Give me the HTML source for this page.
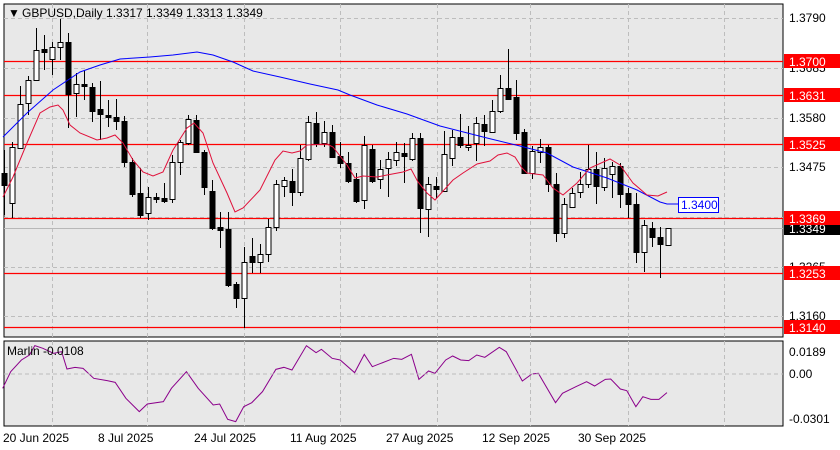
<!DOCTYPE html>
<html><head><meta charset="utf-8"><style>
body{margin:0;background:#fff;}
svg{display:block;font-family:"Liberation Sans",sans-serif;}
</style></head><body>
<svg id="s" width="840" height="450" xmlns="http://www.w3.org/2000/svg">
<rect width="840" height="450" fill="#fff"/>
<rect x="4" y="4" width="779" height="333" fill="#e8e8e8" stroke="#000" stroke-width="1"/>
<rect x="4" y="341" width="779" height="85" fill="#e8e8e8" stroke="#000" stroke-width="1"/>
<g id="grid" stroke="#bdbdbd" stroke-dasharray="4,3" stroke-width="1"></g>
<g id="hl"></g>
<g id="c"></g>
<polyline fill="none" stroke="#0000ff" stroke-width="1" points="3,137 27,113 53,90 80,72 100,65 120,59 150,57 173,55 197,52 213,55 233,62 253,71 280,77 310,84 338,90 350,95 377,105 407,114 440,126 487,138 520,146 547,153 573,167 607,178 637,190 660,202 667,204 678,204"/>
<polyline fill="none" stroke="#e0103a" stroke-width="1" points="3,197 13,177 27,143 40,113 50,107 58,105 63,110 70,125 80,133 97,140 107,138 115,135 123,143 133,160 143,172 153,176 163,172 173,150 187,128 194,123 203,133 213,163 227,193 235,212 243,208 260,190 275,160 283,151 292,153 300,151 307,145 327,144 333,147 347,165 355,178 363,176 377,177 387,175 403,172 411,169 418,182 427,193 435,200 453,180 463,173 477,164 490,161 498,155 507,153 515,157 522,168 527,173 543,175 553,188 563,195 577,183 590,168 610,159 620,165 633,183 647,195 658,196 667,192"/>
<rect x="678.5" y="197.5" width="40" height="15" fill="#fff" stroke="#0000ff"/>
<text x="681" y="209" font-size="12" fill="#0000ff">1.3400</text>
<g transform="translate(0,330) scale(0.5357,0.3333)">
<polyline fill="none" stroke="#8b008b" stroke-width="1" vector-effect="non-scaling-stroke" points="5,175 20,125 40,90 55,75 65,47 80,55 100,70 115,65 125,117 140,112 155,115 175,145 200,152 215,157 235,205 260,245 275,222 305,215 320,175 348,125 370,175 398,225 410,222 425,268 440,275 455,230 470,218 490,185 515,118 530,112 545,120 572,47 590,68 600,58 620,85 635,90 662,128 680,73 695,110 735,85 750,88 768,73 782,148 800,123 812,130 832,90 845,78 860,90 875,92 890,75 905,82 932,52 945,65 975,153 993,132 1005,130 1037,218 1050,190 1075,170 1095,155 1110,168 1130,148 1140,147 1158,177 1170,182 1187,230 1200,200 1215,208 1230,208 1245,188"/>
</g>
<line x1="4" y1="374" x2="783" y2="374" stroke="#bdbdbd" stroke-dasharray="4,3"/>
<g font-size="12" fill="#000">
<text x="8" y="17">▼</text>
<text x="22" y="17">GBPUSD,Daily  1.3317 1.3349 1.3313 1.3349</text>
<text x="7" y="355">Marlin -0.0108</text>
<text x="789" y="22">1.3790</text>
<text x="789" y="72">1.3685</text>
<text x="789" y="122">1.3580</text>
<text x="789" y="171">1.3475</text>
<text x="789" y="271">1.3265</text>
<text x="789" y="320">1.3160</text>
<text x="789" y="356">0.0189</text>
<text x="789" y="378">0.00</text>
<text x="789" y="423">-0.0301</text>
<text x="3" y="442">20 Jun 2025</text>
<text x="98" y="442">8 Jul 2025</text>
<text x="194" y="442">24 Jul 2025</text>
<text x="290" y="442">11 Aug 2025</text>
<text x="386" y="442">27 Aug 2025</text>
<text x="482" y="442">12 Sep 2025</text>
<text x="578" y="442">30 Sep 2025</text>
</g>
<g id="lab" font-size="12"></g>
</svg>
<script>
var NS="http://www.w3.org/2000/svg";
function el(p,t,a,tx){var e=document.createElementNS(NS,t);for(var k in a)e.setAttribute(k,a[k]);if(tx)e.textContent=tx;document.getElementById(p).appendChild(e);return e;}
// grid
[18,68,118,167,217,267,316].forEach(function(y){el('grid','line',{x1:4,x2:783,y1:y+.5,y2:y+.5});});
[52,147,244,340,437,530,628,724].forEach(function(x){el('grid','line',{x1:x+.5,x2:x+.5,y1:4,y2:337});el('grid','line',{x1:x+.5,x2:x+.5,y1:341,y2:426});});
// horizontal levels
el('hl','line',{x1:4,x2:783,y1:228.5,y2:228.5,stroke:'#b8b8b8'});
[61,95,144,218,273,327].forEach(function(y){el('hl','line',{x1:4,x2:783,y1:y+.5,y2:y+.5,stroke:'#ff0000','stroke-width':1.3});});
// candles: color, bodyTop, bodyBot, wickTop, wickBot
var C=[
['b',173,185,150,215],['w',147,203,142,218],['w',104,148,86,148],['w',80,103,76,115],['w',50,80,28,80],['b',49,52,35,70],['w',47,59,42,75],['w',42,47,19,60],
['b',42,94,33,128],['w',84,93,73,117],['b',84,86,70,100],['b',87,111,83,122],['b',109,114,81,140],['b',115,117,100,127],['b',117,121,99,130],['b',121,162,116,167],
['b',162,194,158,197],['b',193,215,168,218],['w',197,213,187,220],['b',197,199,193,203],['b',198,201,183,203],['w',162,199,155,203],['w',142,162,140,175],['w',119,143,115,145],
['b',120,152,115,153],['b',152,187,150,195],['b',191,228,180,230],['b',227,230,212,248],['b',229,285,212,287],['b',284,298,282,308],['w',262,298,247,328],['b',256,262,238,273],
['w',254,262,244,273],['w',227,254,219,262],['w',184,227,180,231],['w',180,186,177,197],['b',181,192,169,206],['w',158,192,145,196],['w',122,159,116,161],['b',123,144,112,147],
['w',132,143,121,147],['b',132,157,125,158],['b',156,163,142,168],['b',163,181,152,183],['b',179,201,173,203],['w',145,200,136,209],['b',149,181,145,183],['w',169,179,160,189],
['w',159,168,152,197],['w',152,160,142,166],['b',153,156,143,183],['w',138,159,133,161],['b',138,208,133,233],['w',184,209,177,237],['b',186,189,177,198],['w',154,191,131,192],
['w',137,158,130,166],['b',137,145,114,148],['w',145,147,126,151],['w',123,143,117,161],['b',124,131,115,146],['w',111,132,100,132],['w',88,111,75,113],['b',88,99,49,100],
['b',97,133,80,140],['b',132,173,129,174],['w',151,173,146,179],['w',147,152,139,163],['b',147,184,145,192],['b',184,233,173,242],['w',204,233,198,238],['w',193,207,188,208],
['w',184,192,172,198],['w',169,184,145,188],['b',169,186,152,204],['w',168,187,158,191],['w',166,174,162,198],['b',166,194,163,208],['b',193,204,188,218],['b',204,252,193,263],
['w',225,252,220,272],['b',228,237,222,247],['b',237,244,227,278],['w',228,245,228,246]];
C.forEach(function(c,i){var x=4+8*i;
el('c','line',{x1:x+.5,x2:x+.5,y1:c[3],y2:c[4],stroke:'#000'});
var h=Math.max(1,c[2]-c[1]);
el('c','rect',{x:x-2,y:c[1]+.5,width:5,height:h,fill:c[0]=='b'?'#000':'#fff',stroke:'#000','stroke-width':1});
});
// right labels
[[61,'1.3700','#ff0000'],[95,'1.3631','#ff0000'],[144,'1.3525','#ff0000'],[228,'1.3349','#000'],[218,'1.3369','#ff0000'],[273,'1.3253','#ff0000'],[327,'1.3140','#ff0000']].forEach(function(l){
el('lab','rect',{x:784,y:l[0]-7,width:56,height:14,fill:l[2]});
el('lab','text',{x:789,y:l[0]+5,fill:'#fff'},l[1]);});
</script>
</body></html>
